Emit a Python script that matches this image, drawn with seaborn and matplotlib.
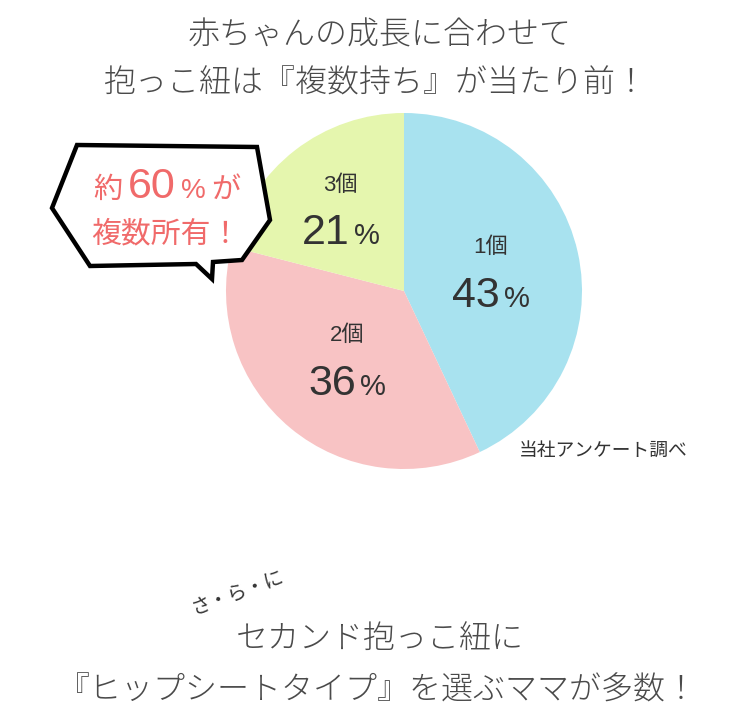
import numpy as np
import matplotlib
matplotlib.use("Agg")
import matplotlib.pyplot as plt
import seaborn as sns
from matplotlib.offsetbox import TextArea, HPacker, AnnotationBbox
from matplotlib.patches import Polygon

# ---- data ----
categories = ["1個", "2個", "3個"]
shares = [43, 36, 21]
colors = ["#a8e2ef", "#f8c3c4", "#e5f6ae"]
title_lines = ["赤ちゃんの成長に合わせて", "抱っこ紐は『複数持ち』が当たり前！"]
bottom_lines = ["セカンド抱っこ紐に", "『ヒップシートタイプ』を選ぶママが多数！"]
callout_top = ["約", "60", "%", "が"]
callout_bottom = "複数所有！"
source_note = "当社アンケート調べ"
aside = "さ・ら・に"

sns.set_theme(style="white")
JP = ["Noto Sans CJK JP", "DejaVu Sans"]
NUM = ["Liberation Sans", "Noto Sans CJK JP", "DejaVu Sans"]
plt.rcParams["font.family"] = JP

TXT = "#4a4a4a"
DARK = "#333333"
RED = "#f06a6a"

fig = plt.figure(figsize=(7.5, 7.28), dpi=100)
ax = fig.add_axes([0, 0, 1, 1])

cx, cy, R = 404, 291, 178
wedges, _ = ax.pie(shares, colors=colors, startangle=-90, counterclock=True,
                   center=(cx, cy), radius=R,
                   wedgeprops=dict(linewidth=0))
ax.set_xlim(0, 750)
ax.set_ylim(728, 0)
ax.set_aspect("equal")
ax.axis("off")

# pie labels (positions from wedge geometry; y axis inverted so visual angle = -data angle)
total = float(sum(shares))
label_r = [0.50, 0.50, 0.58]
cum = 0.0
for cat, val, lr in zip(categories, shares, label_r):
    mid = (cum + val / 2) / total
    cum += val
    ang = np.deg2rad(90 - 360 * mid)  # visual angle
    r = lr * R
    x = cx + r * np.cos(ang)
    y = cy - r * np.sin(ang)
    ax.text(x, y - 24, cat, ha="center", va="center", fontsize=16,
            color=DARK, family=NUM)
    pk = HPacker(children=[
        TextArea(str(val), textprops=dict(fontsize=31, color=DARK, family=NUM)),
        TextArea("%", textprops=dict(fontsize=21, color=DARK, family=NUM)),
    ], align="baseline", pad=0, sep=3)
    ax.add_artist(AnnotationBbox(pk, (x, y + 24), frameon=False,
                                 box_alignment=(0.5, 0.5)))

# titles
ax.text(380, 35, title_lines[0], ha="center", va="center", fontsize=23,
        color=TXT, fontweight="light")
ax.text(375, 83, title_lines[1], ha="center", va="center", fontsize=23,
        color=TXT, fontweight="light")

# callout bubble
bubble = [(77, 145), (257, 147), (270, 220), (242, 260), (213, 262),
          (212, 279), (196, 264), (90, 266), (52, 208)]
ax.add_patch(Polygon(bubble, closed=True, facecolor="white",
                     edgecolor="black", linewidth=3.2, joinstyle="miter",
                     zorder=5))
pk = HPacker(children=[
    TextArea(callout_top[0], textprops=dict(fontsize=21, color=RED, family=JP)),
    TextArea(callout_top[1], textprops=dict(fontsize=31, color=RED, family=NUM)),
    TextArea(callout_top[2], textprops=dict(fontsize=20, color=RED, family=NUM)),
    TextArea(callout_top[3], textprops=dict(fontsize=21, color=RED, family=JP)),
], align="baseline", pad=0, sep=4)
ab = AnnotationBbox(pk, (167, 187), frameon=False, box_alignment=(0.5, 0.5))
ab.set_zorder(6)
ax.add_artist(ab)
ax.text(166, 234, callout_bottom, ha="center", va="center", fontsize=21.5,
        color=RED, zorder=6)

# source note
ax.text(603, 450, source_note, ha="center", va="center", fontsize=13.5,
        color=DARK)

# aside
ax.text(238, 593, aside, ha="center", va="center", fontsize=14,
        color=DARK, rotation=20)

# bottom text
ax.text(380, 640, bottom_lines[0], ha="center", va="center", fontsize=23,
        color=TXT, fontweight="light")
ax.text(378, 690, bottom_lines[1], ha="center", va="center", fontsize=23,
        color=TXT, fontweight="light")

fig.savefig("out.png", dpi=100, facecolor="white")
